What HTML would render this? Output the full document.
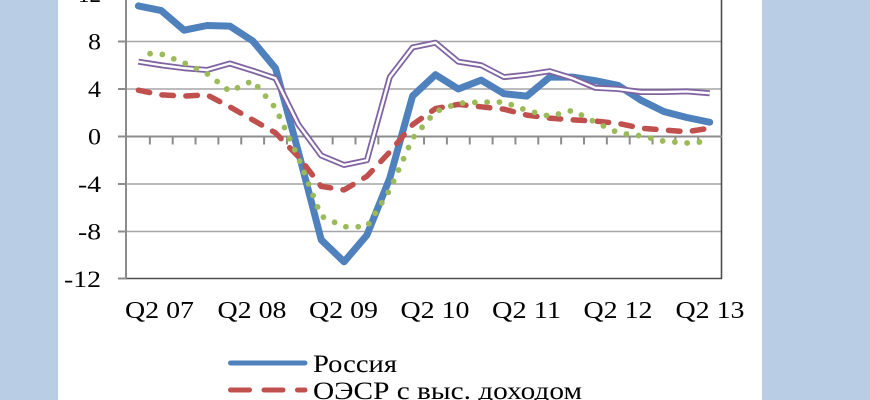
<!DOCTYPE html>
<html>
<head>
<meta charset="utf-8">
<style>
html,body{margin:0;padding:0;background:#fff;}
svg{display:block;}
text{font-family:"Liberation Serif","DejaVu Serif",serif;fill:#000;}
</style>
</head>
<body>
<svg width="870" height="400" viewBox="0 0 870 400" xmlns="http://www.w3.org/2000/svg">
  <rect x="0" y="0" width="870" height="400" fill="#ffffff"/>
  <rect x="0" y="0" width="58" height="400" fill="#b9cde5"/>
  <rect x="762" y="0" width="108" height="400" fill="#b9cde5"/>

  <!-- gridlines -->
  <g stroke="#a6a6a6" stroke-width="1.4">
    <line x1="126" y1="41.5" x2="722" y2="41.5"/>
    <line x1="126" y1="89" x2="722" y2="89"/>
    <line x1="126" y1="184" x2="722" y2="184"/>
    <line x1="126" y1="231.5" x2="722" y2="231.5"/>
  </g>

  <!-- plot border right/bottom -->
  <g stroke="#4d4d4d" stroke-width="1.6" fill="none">
    <line x1="721.5" y1="0" x2="721.5" y2="279"/>
    <line x1="126" y1="278.5" x2="722" y2="278.5"/>
  </g>

  <!-- y axis -->
  <g stroke="#8c8c8c" stroke-width="2">
    <line x1="126" y1="0" x2="126" y2="279.5"/>
    <line x1="118" y1="41.5" x2="126" y2="41.5"/>
    <line x1="118" y1="89" x2="126" y2="89"/>
    <line x1="118" y1="136.5" x2="126" y2="136.5"/>
    <line x1="118" y1="184" x2="126" y2="184"/>
    <line x1="118" y1="231.5" x2="126" y2="231.5"/>
    <line x1="118" y1="278.5" x2="126" y2="278.5"/>
  </g>

  <!-- x axis at 0 with ticks -->
  <g stroke="#8c8c8c" stroke-width="2">
    <line x1="126" y1="136.5" x2="722" y2="136.5"/>
    <path d="M149.85 136.5v8 M172.7 136.5v8 M195.55 136.5v8 M218.4 136.5v8 M241.25 136.5v8 M264.1 136.5v8 M286.95 136.5v8 M309.8 136.5v8 M332.65 136.5v8 M355.5 136.5v8 M378.35 136.5v8 M401.2 136.5v8 M424.05 136.5v8 M446.9 136.5v8 M469.75 136.5v8 M492.6 136.5v8 M515.45 136.5v8 M538.3 136.5v8 M561.15 136.5v8 M584 136.5v8 M606.85 136.5v8 M629.7 136.5v8 M652.55 136.5v8 M675.4 136.5v8 M698.25 136.5v8" fill="none"/>
  </g>

  <!-- y labels -->
  <g font-size="23" text-anchor="end">
    <text x="101" y="2" textLength="23" lengthAdjust="spacingAndGlyphs">12</text>
    <text x="101" y="49.5" textLength="13" lengthAdjust="spacingAndGlyphs">8</text>
    <text x="101" y="97" textLength="13" lengthAdjust="spacingAndGlyphs">4</text>
    <text x="101" y="144.5" textLength="13" lengthAdjust="spacingAndGlyphs">0</text>
    <text x="101" y="192" textLength="23" lengthAdjust="spacingAndGlyphs">-4</text>
    <text x="101" y="239.5" textLength="23" lengthAdjust="spacingAndGlyphs">-8</text>
    <text x="101" y="287" textLength="37" lengthAdjust="spacingAndGlyphs">-12</text>
  </g>

  <!-- x labels -->
  <g font-size="24">
    <text x="125" y="318" textLength="69" lengthAdjust="spacingAndGlyphs">Q2 07</text>
    <text x="217.5" y="318" textLength="69" lengthAdjust="spacingAndGlyphs">Q2 08</text>
    <text x="309" y="318" textLength="69" lengthAdjust="spacingAndGlyphs">Q2 09</text>
    <text x="400.5" y="318" textLength="69" lengthAdjust="spacingAndGlyphs">Q2 10</text>
    <text x="492" y="318" textLength="69" lengthAdjust="spacingAndGlyphs">Q2 11</text>
    <text x="583.5" y="318" textLength="69" lengthAdjust="spacingAndGlyphs">Q2 12</text>
    <text x="675.5" y="318" textLength="69" lengthAdjust="spacingAndGlyphs">Q2 13</text>
  </g>

  <!-- Russia (blue) -->
  <polyline fill="none" stroke="#4f81bd" stroke-width="7" stroke-linejoin="round" stroke-linecap="round"
    points="138.4,5.9 161.3,10.6 184.1,30.2 207,25.5 229.8,26.1 252.7,40.9 275.5,68.2 298.4,151.9 321.2,239.8 344.1,261.8 366.9,235.1 389.8,178.1 412.6,96 435.5,74.7 458.3,89 481.2,80.1 504,93.7 526.9,96.1 549.7,77.1 572.6,77.1 595.4,80.7 618.3,85.4 641.1,100.3 664,111.6 686.8,117.5 709.7,122.25"/>

  <!-- OECD high income (red dashed) -->
  <polyline fill="none" stroke="#c0504d" stroke-width="5.5" stroke-linejoin="round" stroke-linecap="round" stroke-dasharray="11.5 12.5"
    points="138.4,90.2 161.3,94.9 184.1,96.1 207,94.9 229.8,106.8 252.7,119.9 275.5,132.9 298.4,156.7 321.2,186.4 344.1,189.9 366.9,176.3 389.8,151.9 412.6,124.6 435.5,108.6 458.3,104.4 481.2,106.8 504,109.2 526.9,115.1 549.7,118.1 572.6,119.9 595.4,121.1 618.3,123.4 641.1,128.2 664,130 686.8,131.75 709.7,128.2"/>

  <!-- purple double line -->
  <polyline fill="none" stroke="#8064a2" stroke-width="6" stroke-linejoin="round"
    points="138.4,61.7 161.3,65.25 184.1,68.2 207,70 229.8,63.5 252.7,70.6 275.5,78.3 298.4,124.6 321.2,155.5 344.1,165 366.9,160.25 389.8,77.1 412.6,47.4 435.5,42.7 458.3,61.7 481.2,65.25 504,77.1 526.9,74.7 549.7,71.2 572.6,78.3 595.4,87.8 618.3,89 641.1,92 664,92 686.8,91.4 709.7,93.2"/>
  <polyline fill="none" stroke="#ffffff" stroke-width="2.4" stroke-linejoin="round"
    points="138.4,61.7 161.3,65.25 184.1,68.2 207,70 229.8,63.5 252.7,70.6 275.5,78.3 298.4,124.6 321.2,155.5 344.1,165 366.9,160.25 389.8,77.1 412.6,47.4 435.5,42.7 458.3,61.7 481.2,65.25 504,77.1 526.9,74.7 549.7,71.2 572.6,78.3 595.4,87.8 618.3,89 641.1,92 664,92 686.8,91.4 709.7,93.2"/>

  <!-- green dotted -->
  <polyline fill="none" stroke="#9bbb59" stroke-width="5.8" stroke-linejoin="round" stroke-linecap="round" stroke-dasharray="0 12.3" stroke-dashoffset="0.6"
    points="138.4,53.4 161.3,54 184.1,62.9 207,73.6 229.8,91.4 252.7,80.7 275.5,108 298.4,157.9 321.2,216.1 344.1,226.75 366.9,226.75 389.8,189.9 412.6,138.3 435.5,111.6 458.3,103.25 481.2,102.1 504,102.1 526.9,110.4 549.7,116.3 572.6,110.4 595.4,122.25 618.3,132.9 641.1,135.9 664,141.25 686.8,143 709.7,141.25"/>

  <!-- legend -->
  <line x1="230.5" y1="363" x2="305" y2="363" stroke="#4f81bd" stroke-width="5" stroke-linecap="round"/>
  <line x1="230.5" y1="390" x2="305" y2="390" stroke="#c0504d" stroke-width="5" stroke-linecap="round" stroke-dasharray="19 14.5"/>
  <text x="313" y="372" font-size="25" textLength="84" lengthAdjust="spacingAndGlyphs">Россия</text>
  <text x="313" y="399" font-size="25" textLength="269" lengthAdjust="spacingAndGlyphs">ОЭСР с выс. доходом</text>
</svg>
</body>
</html>
